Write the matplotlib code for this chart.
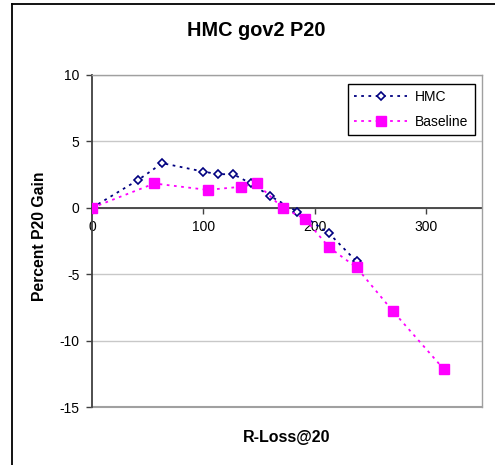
import matplotlib
matplotlib.use("Agg")
import matplotlib.pyplot as plt
from matplotlib.lines import Line2D

plt.rcParams['font.family'] = ['Liberation Sans', 'DejaVu Sans']
plt.rcParams['axes.unicode_minus'] = False

# R-Loss@20 vs percent P20 gain
hmc_x = [0, 41.5, 63, 99.8, 113, 126.7, 142.6, 160, 184, 212.8, 237.4]
hmc_y = [0, 2.1, 3.36, 2.73, 2.53, 2.53, 1.83, 0.88, -0.28, -1.93, -4.04]

base_x = [0, 55.9, 103.7, 133.6, 147.7, 171, 191, 212.8, 237.4, 270.2, 315.7]
base_y = [0, 1.83, 1.35, 1.58, 1.83, 0, -0.83, -2.98, -4.49, -7.8, -12.15]

x_ticks = [0, 100, 200, 300]
y_ticks = [-15, -10, -5, 0, 5, 10]

W, H = 495, 465
fig = plt.figure(figsize=(W / 100, H / 100), dpi=100)
ax = fig.add_axes([92 / W, 1 - 407 / H, (482 - 92) / W, (407 - 75) / H])

ax.plot(hmc_x, hmc_y, color='#000080', linestyle=(0, (1.5, 2.5)), lw=1.3,
        marker='D', ms=4.5, mfc='white', mec='#000080', mew=1.2, label='HMC',
        zorder=3)
ax.plot(base_x, base_y, color='#FF00FF', linestyle=(0, (1.5, 2.5)), lw=1.3,
        marker='s', ms=6.5, mfc='#FF00FF', mec='#FF00FF', label='Baseline',
        zorder=4)

ax.set_xlim(0, 350)
ax.set_ylim(-15, 10)
ax.set_xticks(x_ticks)
ax.set_yticks(y_ticks)
ax.set_xticklabels([str(v) for v in x_ticks])
ax.set_yticklabels([str(v) for v in y_ticks])
ax.yaxis.grid(True, color='#c8c8c8', lw=1)
ax.set_axisbelow(True)

ax.spines['left'].set_color('#404040')
ax.spines['left'].set_linewidth(1.3)
ax.spines['bottom'].set_position(('data', 0))
ax.spines['bottom'].set_color('#404040')
ax.spines['bottom'].set_linewidth(1.3)
ax.spines['bottom'].set_zorder(2)
for s in ('top', 'right'):
    ax.spines[s].set_color('#a0a0a0')
    ax.spines[s].set_linewidth(1)
ax.axhline(-15, color='#a0a0a0', lw=1.5, clip_on=False)

ax.tick_params(axis='both', direction='out', length=4, width=1,
               color='#404040', labelsize=10, labelcolor='black')
ax.tick_params(axis='x', pad=5)
ax.tick_params(axis='y', pad=5)

fig.text(256 / W, 1 - 31 / H, 'HMC gov2 P20', ha='center', va='center',
         fontsize=14.3, fontweight='bold')
fig.text(287 / W, 1 - 437 / H, 'R-Loss@20', ha='center', va='center',
         fontsize=11.5, fontweight='bold')
fig.text(40 / W, 1 - 236 / H, 'Percent P20 Gain', ha='center', va='center',
         rotation=90, fontsize=11.3, fontweight='bold')

leg = ax.legend(loc='upper right', bbox_to_anchor=((475 - 92) / 390, (407 - 84) / 332),
                fontsize=10, frameon=True, fancybox=False, edgecolor='black',
                framealpha=1, borderaxespad=0, handlelength=3.8,
                handletextpad=0.6, labelspacing=0.75, borderpad=0.45)
leg.get_frame().set_linewidth(1)

# outer chart border
fig.add_artist(Line2D([12 / W, 12 / W], [0, 1 - 4 / H], transform=fig.transFigure,
                      color='black', lw=1.3))
fig.add_artist(Line2D([12 / W, 1], [1 - 4 / H, 1 - 4 / H], transform=fig.transFigure,
                      color='black', lw=1.3))

fig.savefig('out.png', dpi=100)
